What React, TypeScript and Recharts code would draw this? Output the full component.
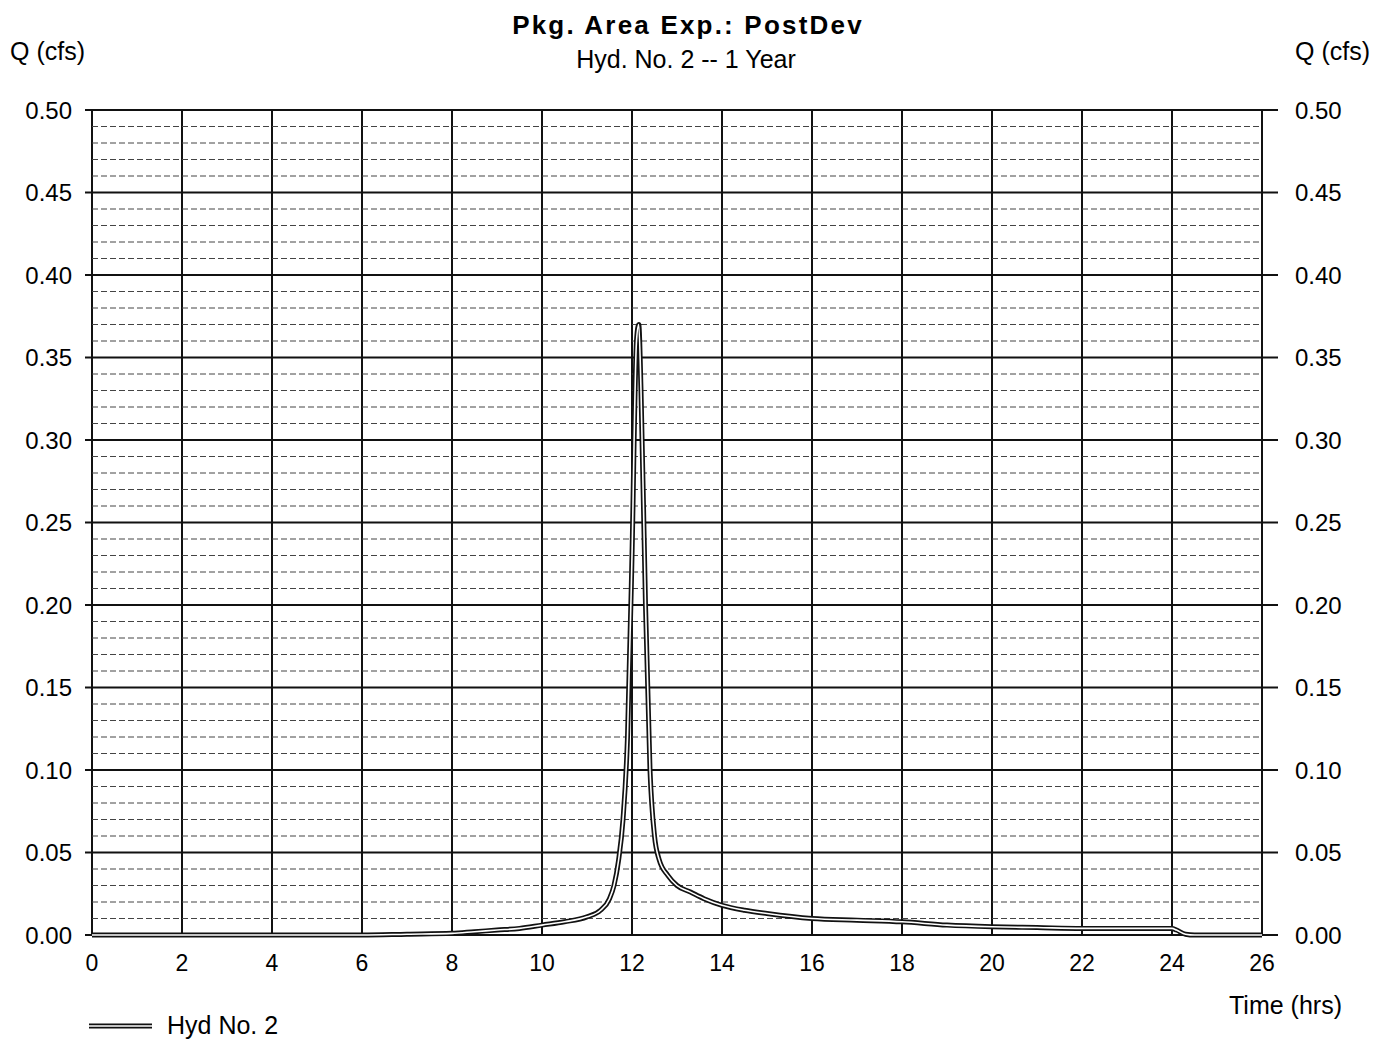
import { LineChart, Line, XAxis, YAxis, CartesianGrid, ReferenceLine } from "recharts";

// Hydrograph values (time in hrs, Q in cfs)
const hours = [0, 1, 2, 3, 4, 5, 6, 7, 8, 8.5, 9, 9.5, 10, 10.5, 11, 11.3, 11.5, 11.6, 11.7, 11.8, 11.9, 12.0, 12.1, 12.15, 12.2, 12.3, 12.4, 12.5, 12.6, 12.8, 13.0, 13.3, 13.6, 14, 14.5, 15, 16, 17, 18, 19, 20, 21, 22, 23, 24, 24.1, 24.3, 24.5, 25, 26];
const flows = [0, 0, 0, 0, 0, 0, 0, 0.0005, 0.001, 0.002, 0.003, 0.004, 0.006, 0.008, 0.011, 0.015, 0.022, 0.03, 0.045, 0.07, 0.12, 0.23, 0.36, 0.37, 0.33, 0.2, 0.1, 0.06, 0.046, 0.036, 0.030, 0.026, 0.022, 0.018, 0.015, 0.013, 0.01, 0.009, 0.008, 0.006, 0.005, 0.0045, 0.004, 0.004, 0.004, 0.003, 0.0005, 0, 0, 0];

const xTicks = [0, 2, 4, 6, 8, 10, 12, 14, 16, 18, 20, 22, 24, 26];
const yTicks = [0, 0.05, 0.1, 0.15, 0.2, 0.25, 0.3, 0.35, 0.4, 0.45, 0.5];
const minorSteps = [0.01, 0.02, 0.03, 0.04];

const data = hours.map((t, i) => ({ t, q: flows[i] }));
const minorLines = yTicks.slice(0, -1).flatMap((y) => minorSteps.map((s) => +(y + s).toFixed(2)));

const font = "'Liberation Sans', Arial, sans-serif";

export default function App() {
  const txt = (style: React.CSSProperties) => ({
    position: "absolute" as const,
    fontFamily: font,
    color: "#000",
    lineHeight: 1,
    whiteSpace: "nowrap" as const,
    ...style,
  });

  return (
    <div style={{ position: "absolute", left: 0, top: 0, width: 1387, height: 1040, background: "#fff" }}>
      <LineChart
        width={1387}
        height={1040}
        data={data}
        margin={{ top: 110, right: 45, bottom: 75, left: 12 }}
      >
        <CartesianGrid stroke="#111" strokeWidth={2} yAxisId="left" />
        {minorLines.map((v) => (
          <ReferenceLine
            key={v}
            y={v}
            yAxisId="left"
            stroke="#444"
            strokeWidth={1}
            strokeDasharray="6 3"
          />
        ))}
        <XAxis
          dataKey="t"
          type="number"
          domain={[0, 26]}
          ticks={xTicks}
          axisLine={false}
          tickLine={false}
          tickSize={8}
          tickMargin={12}
          height={30}
          tick={{ fill: "#000", fontSize: 23, fontFamily: font }}
        />
        <YAxis
          yAxisId="left"
          orientation="left"
          domain={[0, 0.5]}
          ticks={yTicks}
          width={80}
          axisLine={false}
          tickSize={7}
          tickMargin={13}
          tickLine={{ stroke: "#111", strokeWidth: 2 }}
          tickFormatter={(v: number) => v.toFixed(2)}
          tick={{ fill: "#000", fontSize: 24, fontFamily: font }}
        />
        <YAxis
          yAxisId="right"
          orientation="right"
          domain={[0, 0.5]}
          ticks={yTicks}
          width={80}
          axisLine={false}
          tickSize={16}
          tickMargin={17}
          tickLine={{ stroke: "#111", strokeWidth: 2 }}
          tickFormatter={(v: number) => v.toFixed(2)}
          tick={{ fill: "#000", fontSize: 24, fontFamily: font }}
        />
        <Line
          yAxisId="left"
          type="monotone"
          dataKey="q"
          stroke="#111"
          strokeWidth={5}
          dot={false}
          isAnimationActive={false}
        />
        <Line
          yAxisId="right"
          type="monotone"
          dataKey="q"
          stroke="#fff"
          strokeWidth={1.6}
          dot={false}
          isAnimationActive={false}
        />
      </LineChart>

      <div style={txt({ left: 0, width: 1376, top: 12, textAlign: "center", fontSize: 26, fontWeight: "bold", letterSpacing: 2.2 })}>
        Pkg. Area Exp.: PostDev
      </div>
      <div style={txt({ left: 0, width: 1372, top: 47, textAlign: "center", fontSize: 25 })}>
        Hyd. No. 2 -- 1 Year
      </div>
      <div style={txt({ left: 10, top: 39, fontSize: 25 })}>Q (cfs)</div>
      <div style={txt({ left: 1295, top: 39, fontSize: 25 })}>Q (cfs)</div>
      <div style={txt({ left: 1229, top: 993, fontSize: 25 })}>Time (hrs)</div>
      <div style={{ position: "absolute", left: 88, top: 1013, display: "flex", alignItems: "center" }}>
        <svg width={66} height={10}>
          <line x1={1} y1={5} x2={64} y2={5} stroke="#111" strokeWidth={5} />
          <line x1={1} y1={5} x2={64} y2={5} stroke="#fff" strokeWidth={1.6} />
        </svg>
        <span style={{ fontFamily: font, fontSize: 25, marginLeft: 13, lineHeight: 1 }}>Hyd No. 2</span>
      </div>
    </div>
  );
}
